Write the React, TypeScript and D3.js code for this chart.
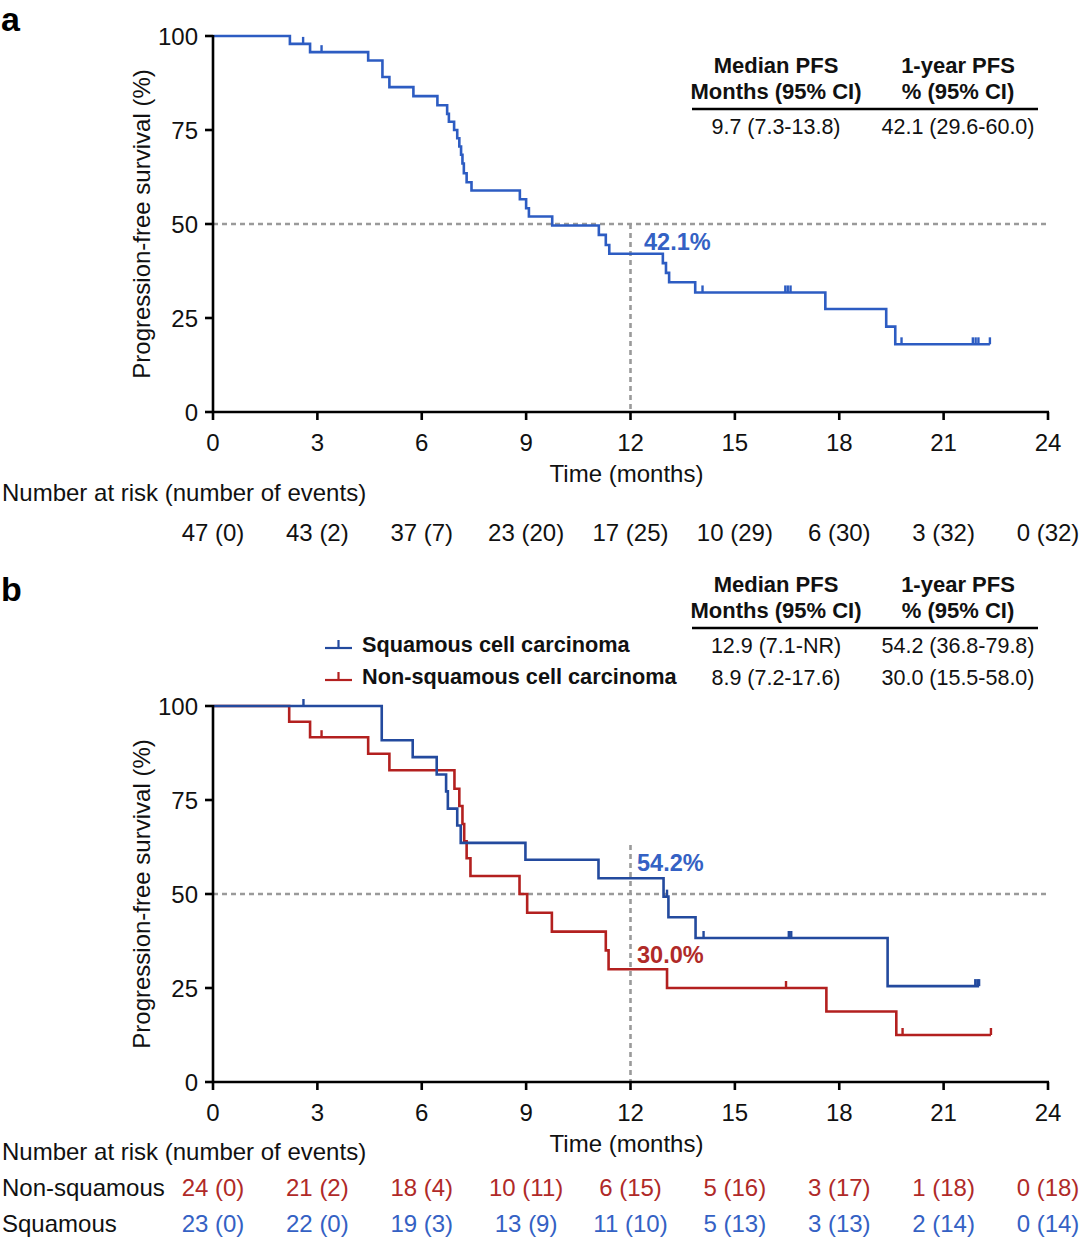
import React from 'react';
import * as d3 from 'd3';

// ---- data ----
const MONTH_TICKS = [0, 3, 6, 9, 12, 15, 18, 21, 24];
const PFS_TICKS = [0, 25, 50, 75, 100];

// panel a: all patients (n = 47)
const allEventTimes = [2.21, 2.79, 4.46, 4.87, 5.07, 5.76, 6.45, 6.73, 6.78, 6.93, 7.02, 7.08, 7.13, 7.17, 7.21, 7.29, 7.43, 8.82, 9.0, 9.08, 9.75, 11.09, 11.29, 11.39, 12.93, 13.02, 13.11, 13.86, 17.6, 19.35, 19.61];
const allEventSurv = [97.9, 95.7, 93.5, 89.1, 86.4, 84.0, 81.6, 79.3, 77.2, 75.0, 72.8, 70.6, 68.4, 66.1, 63.5, 61.1, 58.9, 56.6, 54.2, 52.0, 49.6, 47.1, 44.4, 42.1, 39.6, 37.0, 34.5, 31.8, 27.4, 22.7, 18.0];
const allCensored = [2.59, 3.12, 14.07, 16.45, 16.52, 16.6, 19.79, 21.84, 21.92, 22.0, 22.33];
const allLastTime = 22.33;
const allRisk = ['47 (0)', '43 (2)', '37 (7)', '23 (20)', '17 (25)', '10 (29)', '6 (30)', '3 (32)', '0 (32)'];

// panel b: squamous (n = 23)
const sqEventTimes = [4.85, 5.74, 6.43, 6.7, 6.75, 7.02, 7.12, 8.98, 11.08, 12.95, 13.09, 13.87, 19.39];
const sqEventSurv = [90.9, 86.4, 81.8, 77.3, 72.7, 68.2, 63.6, 59.1, 54.2, 49.3, 43.8, 38.3, 25.5];
const sqCensored = [2.6, 13.05, 14.1, 16.55, 16.62, 21.91, 21.97, 22.02];
const sqLastTime = 22.02;
const sqRisk = ['23 (0)', '22 (0)', '19 (3)', '13 (9)', '11 (10)', '5 (13)', '3 (13)', '2 (14)', '0 (14)'];

// panel b: non-squamous (n = 24)
const nsqEventTimes = [2.19, 2.79, 4.46, 5.07, 6.94, 7.08, 7.17, 7.22, 7.29, 7.4, 8.81, 9.03, 9.74, 11.29, 11.37, 13.05, 17.63, 19.64];
const nsqEventSurv = [95.8, 91.7, 87.3, 82.9, 78.0, 73.4, 68.6, 64.0, 59.5, 54.8, 50.0, 45.0, 40.0, 35.0, 30.0, 25.0, 18.75, 12.5];
const nsqCensored = [3.12, 16.47, 19.82, 22.36];
const nsqLastTime = 22.36;
const nsqRisk = ['24 (0)', '21 (2)', '18 (4)', '10 (11)', '6 (15)', '5 (16)', '3 (17)', '1 (18)', '0 (18)'];

const tableHead1 = ['Median PFS', 'Months (95% CI)'];
const tableHead2 = ['1-year PFS', '% (95% CI)'];
const allMedian = '9.7 (7.3-13.8)';
const allOneYear = '42.1 (29.6-60.0)';
const sqMedian = '12.9 (7.1-NR)';
const sqOneYear = '54.2 (36.8-79.8)';
const nsqMedian = '8.9 (7.2-17.6)';
const nsqOneYear = '30.0 (15.5-58.0)';
const allAt12 = '42.1%';
const sqAt12 = '54.2%';
const nsqAt12 = '30.0%';

// ---- styling ----
const FONT = '"Liberation Sans", Arial, Helvetica, sans-serif';
const BLUE_A = '#2d5cc2';
const BLUE_B = '#234a9e';
const RED = '#b3201f';
const BLUE_TXT = '#3461c4';
const RED_TXT = '#b02a28';
const GREY = '#9a9a9a';

const W = 1080;
const H = 1239;
const x = d3.scaleLinear().domain([0, 24]).range([213, 1048]);

type Pt = [number, number];

function stepPoints(times: number[], surv: number[], last: number): Pt[] {
  const pts: Pt[] = [[0, 100]];
  times.forEach((t, i) => pts.push([t, surv[i]]));
  pts.push([last, surv[surv.length - 1]]);
  return pts;
}

function survAt(times: number[], surv: number[], t: number) {
  let s = 100;
  times.forEach((et, i) => {
    if (et <= t) s = surv[i];
  });
  return s;
}

const Curve: React.FC<{
  y: d3.ScaleLinear<number, number>;
  times: number[];
  surv: number[];
  censored: number[];
  last: number;
  color: string;
}> = ({ y, times, surv, censored, last, color }) => {
  const line = d3
    .line<Pt>()
    .x((d) => x(d[0]))
    .y((d) => y(d[1]))
    .curve(d3.curveStepAfter);
  return (
    <g>
      <path d={line(stepPoints(times, surv, last)) || ''} fill="none" stroke={color} strokeWidth={2.6} />
      {censored.map((t, i) => {
        const yy = y(survAt(times, surv, t));
        return <line key={i} x1={x(t)} x2={x(t)} y1={yy} y2={yy - 7} stroke={color} strokeWidth={2.4} />;
      })}
    </g>
  );
};

const Axes: React.FC<{ y: d3.ScaleLinear<number, number> }> = ({ y }) => {
  const y0 = y(0);
  const y100 = y(100);
  return (
    <g fontFamily={FONT} fontSize={24} fill="#111">
      <line x1={x(0)} x2={x(0)} y1={y100 - 1} y2={y0 + 1} stroke="#000" strokeWidth={2.6} />
      <line x1={x(0) - 1} x2={x(24) + 1} y1={y0} y2={y0} stroke="#000" strokeWidth={2.6} />
      {PFS_TICKS.map((t) => (
        <g key={t}>
          <line x1={x(0) - 8} x2={x(0)} y1={y(t)} y2={y(t)} stroke="#000" strokeWidth={2.6} />
          <text x={x(0) - 15} y={y(t)} textAnchor="end" dominantBaseline="central">
            {t}
          </text>
        </g>
      ))}
      {MONTH_TICKS.map((t) => (
        <g key={t}>
          <line x1={x(t)} x2={x(t)} y1={y0} y2={y0 + 8} stroke="#000" strokeWidth={2.6} />
          <text x={x(t)} y={y0 + 30} textAnchor="middle" dominantBaseline="central">
            {t}
          </text>
        </g>
      ))}
      <text x={x(12) - 4} y={y0 + 61} textAnchor="middle" dominantBaseline="central">
        Time (months)
      </text>
      <text
        transform={`translate(141,${(y0 + y100) / 2}) rotate(-90)`}
        textAnchor="middle"
        dominantBaseline="central"
      >
        Progression-free survival (%)
      </text>
    </g>
  );
};

const RefLines: React.FC<{ y: d3.ScaleLinear<number, number>; vTop: number }> = ({ y, vTop }) => (
  <g stroke={GREY} strokeWidth={2.6} strokeDasharray="5,4">
    <line x1={x(0)} x2={x(24)} y1={y(50)} y2={y(50)} />
    <line x1={x(12)} x2={x(12)} y1={y(vTop)} y2={y(0)} />
  </g>
);

const StatsTable: React.FC<{ top: number; rows: { median: string; oneYear: string }[] }> = ({ top, rows }) => (
  <g fontFamily={FONT} fill="#111" textAnchor="middle">
    <g fontSize={22} fontWeight="bold">
      <text x={776} y={top}>{tableHead1[0]}</text>
      <text x={776} y={top + 26}>{tableHead1[1]}</text>
      <text x={958} y={top}>{tableHead2[0]}</text>
      <text x={958} y={top + 26}>{tableHead2[1]}</text>
    </g>
    <line x1={692} x2={1038} y1={top + 36} y2={top + 36} stroke="#000" strokeWidth={2.6} />
    <g fontSize={21.5}>
      {rows.map((r, i) => (
        <g key={i}>
          <text x={776} y={top + 61 + i * 32}>{r.median}</text>
          <text x={958} y={top + 61 + i * 32}>{r.oneYear}</text>
        </g>
      ))}
    </g>
  </g>
);

export default function App() {
  const yA = d3.scaleLinear().domain([0, 100]).range([412, 36]);
  const yB = d3.scaleLinear().domain([0, 100]).range([1082, 706]);

  return (
    <svg
      width={W}
      height={H}
      viewBox={`0 0 ${W} ${H}`}
      style={{ position: 'absolute', left: 0, top: 0, background: '#fff' }}
    >
      <rect width={W} height={H} fill="#fff" />

      {/* ---- panel a ---- */}
      <text x={1} y={31} fontFamily={FONT} fontWeight="bold" fontSize={34} fill="#000">a</text>
      <RefLines y={yA} vTop={50} />
      <Curve y={yA} times={allEventTimes} surv={allEventSurv} censored={allCensored} last={allLastTime} color={BLUE_A} />
      <Axes y={yA} />
      <text x={644} y={250} fontFamily={FONT} fontWeight="bold" fontSize={23.5} fill={BLUE_TXT}>{allAt12}</text>
      <StatsTable top={73} rows={[{ median: allMedian, oneYear: allOneYear }]} />
      <g fontFamily={FONT} fontSize={24} fill="#111">
        <text x={2} y={501}>Number at risk (number of events)</text>
        {allRisk.map((r, i) => (
          <text key={i} x={x(MONTH_TICKS[i])} y={541} textAnchor="middle">{r}</text>
        ))}
      </g>

      {/* ---- panel b ---- */}
      <text x={1} y={601} fontFamily={FONT} fontWeight="bold" fontSize={34} fill="#000">b</text>
      <RefLines y={yB} vTop={63} />
      <Curve y={yB} times={nsqEventTimes} surv={nsqEventSurv} censored={nsqCensored} last={nsqLastTime} color={RED} />
      <Curve y={yB} times={sqEventTimes} surv={sqEventSurv} censored={sqCensored} last={sqLastTime} color={BLUE_B} />
      <Axes y={yB} />
      <text x={637} y={871} fontFamily={FONT} fontWeight="bold" fontSize={23.5} fill={BLUE_TXT}>{sqAt12}</text>
      <text x={637} y={963} fontFamily={FONT} fontWeight="bold" fontSize={23.5} fill={RED_TXT}>{nsqAt12}</text>
      <StatsTable
        top={592}
        rows={[
          { median: sqMedian, oneYear: sqOneYear },
          { median: nsqMedian, oneYear: nsqOneYear },
        ]}
      />
      {/* legend */}
      <g fontFamily={FONT} fontWeight="bold" fontSize={21.7} fill="#111">
        {[
          { label: 'Squamous cell carcinoma', color: BLUE_B, y: 652 },
          { label: 'Non-squamous cell carcinoma', color: RED, y: 684 },
        ].map((d) => (
          <g key={d.label}>
            <line x1={325} x2={352} y1={d.y - 4} y2={d.y - 4} stroke={d.color} strokeWidth={2.2} />
            <line x1={338.5} x2={338.5} y1={d.y - 4} y2={d.y - 12} stroke={d.color} strokeWidth={2.2} />
            <text x={362} y={d.y}>{d.label}</text>
          </g>
        ))}
      </g>
      <g fontFamily={FONT} fontSize={24} fill="#111">
        <text x={2} y={1160}>Number at risk (number of events)</text>
        <text x={2} y={1196}>Non-squamous</text>
        <text x={2} y={1232}>Squamous</text>
        {nsqRisk.map((r, i) => (
          <text key={'n' + i} x={x(MONTH_TICKS[i])} y={1196} textAnchor="middle" fill={RED_TXT}>{r}</text>
        ))}
        {sqRisk.map((r, i) => (
          <text key={'s' + i} x={x(MONTH_TICKS[i])} y={1232} textAnchor="middle" fill={BLUE_TXT}>{r}</text>
        ))}
      </g>
    </svg>
  );
}
